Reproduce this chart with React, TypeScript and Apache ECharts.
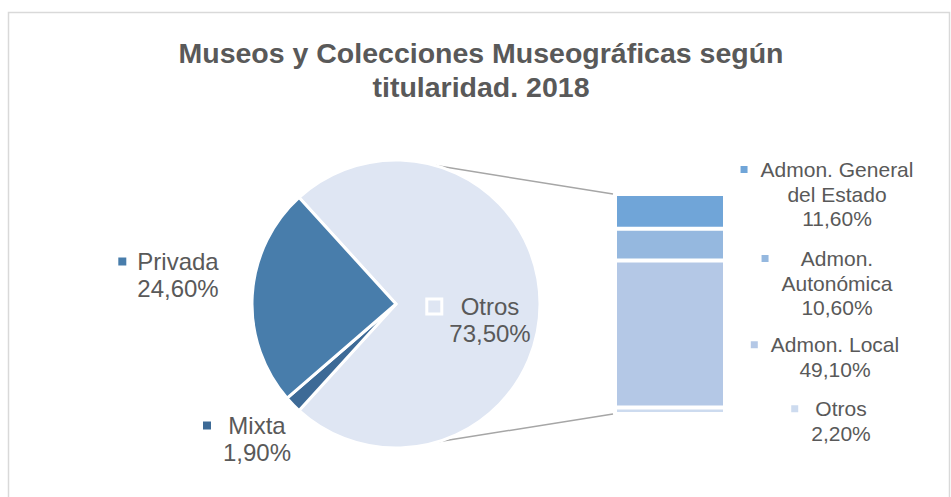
import React, { useEffect, useRef } from "react";
import * as echarts from "echarts";

const titleText = "Museos y Colecciones Museográficas según\ntitularidad. 2018";

const pieNames = ["Otros", "Mixta", "Privada"];
const pieValues = [73.5, 1.9, 24.6];
const pieColors = ["#dfe6f3", "#3d6a96", "#487dab"];

// bar (breakdown of "Otros"), listed from bottom to top
const barNames = ["Otros", "Admon. Local", "Admon. Autonómica", "Admon. General del Estado"];
const barLabelLines = [["Otros"], ["Admon. Local"], ["Admon.", "Autonómica"], ["Admon. General", "del Estado"]];
const barValues = [2.2, 49.1, 10.6, 11.6];
const barColors = ["#cddbef", "#b4c8e6", "#95b8df", "#70a5d8"];

const TEXT = "#595959";
const FONT = '"Liberation Sans", Arial, sans-serif';

const fmt = (v: number) => v.toFixed(2).replace(".", ",") + "%";

let ctx: CanvasRenderingContext2D | null = null;
function measure(t: string, size: number) {
  if (!ctx) ctx = document.createElement("canvas").getContext("2d");
  if (!ctx) return t.length * size * 0.55;
  ctx.font = `${size}px ${FONT}`;
  return ctx.measureText(t).width;
}

function makeLabel(lines: string[], size: number, lh: number, sq: number, gap: number, key: any) {
  const widths = lines.map((l) => measure(l, size));
  const W = Math.max(...widths);
  const half = (W - widths[0]) / 2;
  const rich: any = {
    k: Object.assign({ width: sq, height: sq }, key),
    f: { fontSize: size, lineHeight: lh, color: TEXT, fontFamily: FONT, padding: [0, sq + gap + half, 0, gap + half] },
    t: { fontSize: size, lineHeight: lh, color: TEXT, fontFamily: FONT },
  };
  const formatter = [`{k|}{f|${lines[0]}}`, ...lines.slice(1).map((l) => `{t|${l}}`)].join("\n");
  return { formatter, rich };
}

export default function App() {
  const ref = useRef<HTMLDivElement>(null);
  useEffect(() => {
    document.body.style.margin = "0";
    if (!ref.current) return;
    const chart = echarts.init(ref.current, null, { renderer: "svg" });

    const cx = 396, cy = 304, r = 144;
    const gLeft = 615, gTop = 194, gW = 110, gH = 220;

    const piePos: [number, number][] = [[490, 320], [257, 439], [178, 275]];
    const pieLabelCfg = [
      { sq: 12, gap: 9, key: { backgroundColor: pieColors[0], borderColor: "#ffffff", borderWidth: 3 } },
      { sq: 8, gap: 12, key: { backgroundColor: pieColors[1] } },
      { sq: 8, gap: 11, key: { backgroundColor: pieColors[2] } },
    ];
    const pieData = pieNames.map((n, i) => {
      const lab = makeLabel([n, fmt(pieValues[i])], 24, 27, pieLabelCfg[i].sq, pieLabelCfg[i].gap, pieLabelCfg[i].key);
      return {
        name: n,
        value: pieValues[i],
        itemStyle: { color: pieColors[i] },
        label: { show: true, formatter: lab.formatter, rich: lab.rich },
      };
    });

    const barPos: [number, number][] = [[841, 421], [835, 357], [837, 283], [837, 194]];
    const barSeries = barNames.map((n, i) => {
      const lab = makeLabel([...barLabelLines[i], fmt(barValues[i])], 21, 24.5, 7, 13, { backgroundColor: barColors[i] });
      return {
        type: "bar",
        name: n,
        stack: "otros",
        xAxisIndex: 0,
        yAxisIndex: 0,
        barWidth: "100%",
        data: [barValues[i]],
        itemStyle: { color: barColors[i], borderColor: "#ffffff", borderWidth: 2 },
        label: { show: true, position: "right", formatter: lab.formatter, rich: lab.rich },
        labelLayout: () => ({ x: barPos[i][0], y: barPos[i][1], align: "center", verticalAlign: "middle" }),
      };
    });

    const a1 = (74 * Math.PI) / 180;
    const a2 = (-73 * Math.PI) / 180;

    chart.setOption({
      animation: false,
      title: {
        text: titleText,
        left: 476,
        top: 31,
        textAlign: "center",
        textStyle: { fontSize: 28.5, fontWeight: "bold", color: TEXT, fontFamily: FONT, lineHeight: 34 },
      },
      grid: { left: gLeft, top: gTop, width: gW, height: gH },
      xAxis: { type: "category", data: ["Otros"], show: false },
      yAxis: { type: "value", min: 0, max: barValues.reduce((a, b) => a + b, 0), show: false },
      graphic: [
        { type: "rect", shape: { x: 8.5, y: 12.5, width: 941, height: 520 }, style: { fill: "none", stroke: "#d9d9d9", lineWidth: 1.5 }, silent: true },
        { type: "line", shape: { x1: cx + r * Math.cos(a1), y1: cy - r * Math.sin(a1), x2: gLeft - 2, y2: gTop }, style: { stroke: "#a6a6a6", lineWidth: 1.5 } },
        { type: "line", shape: { x1: cx + r * Math.cos(a2), y1: cy - r * Math.sin(a2), x2: gLeft - 2, y2: gTop + gH }, style: { stroke: "#a6a6a6", lineWidth: 1.5 } },
      ],
      series: [
        {
          type: "pie",
          center: [cx, cy],
          radius: r,
          startAngle: (pieValues[0] / 100) * 180,
          clockwise: true,
          itemStyle: { borderColor: "#ffffff", borderWidth: 3 },
          label: { position: "outside" },
          labelLine: { show: false },
          labelLayout: (p: any) => ({ x: piePos[p.dataIndex][0], y: piePos[p.dataIndex][1], align: "center", verticalAlign: "middle" }),
          data: pieData,
        },
        ...barSeries,
      ],
    });
    return () => chart.dispose();
  }, []);
  return <div ref={ref} style={{ width: 951, height: 497, background: "#ffffff" }} />;
}
